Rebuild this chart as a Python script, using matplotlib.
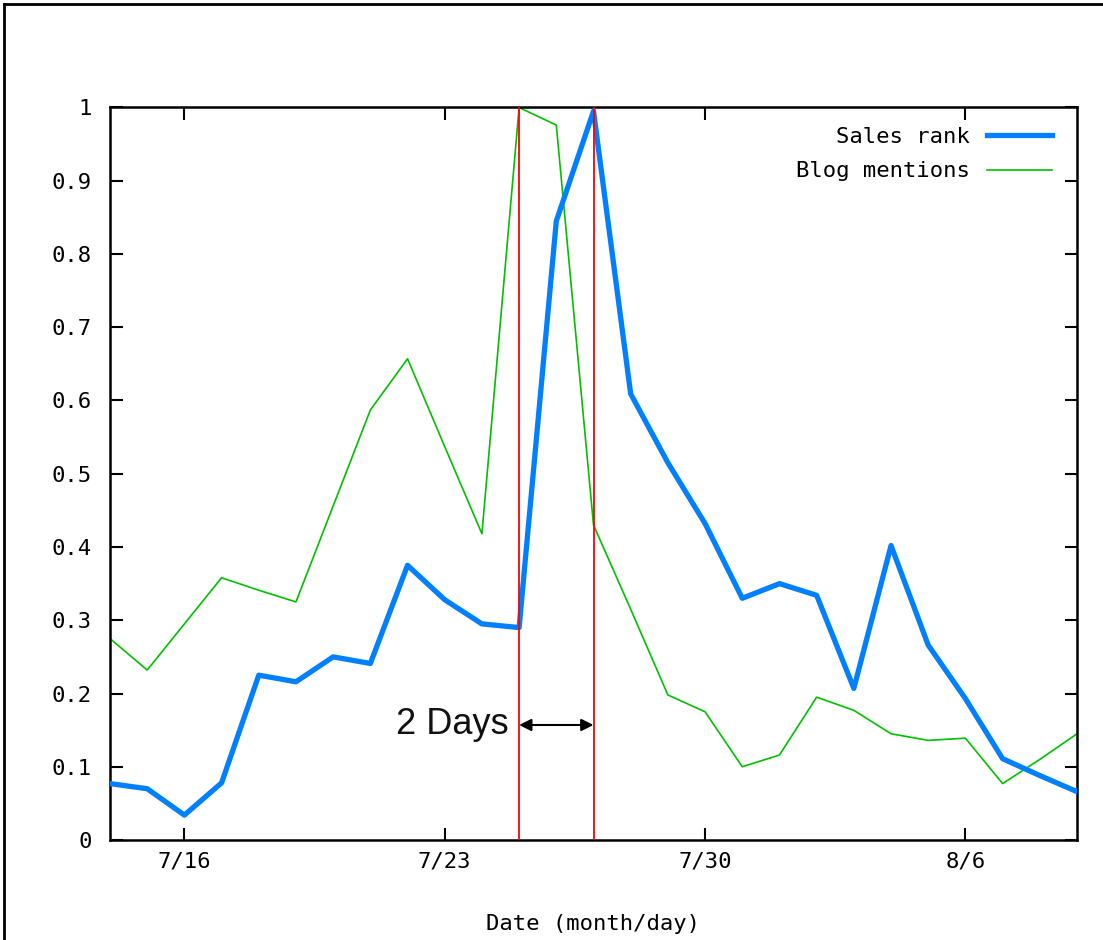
import matplotlib
matplotlib.use("Agg")
import matplotlib.pyplot as plt
from matplotlib.lines import Line2D
import pandas as pd

# ---- data ----
dates = pd.date_range("2005-07-14", "2005-08-09", freq="D")
sales_rank = [0.077, 0.070, 0.034, 0.078, 0.225, 0.216, 0.250, 0.241, 0.375,
              0.328, 0.295, 0.290, 0.845, 0.995, 0.609, 0.515, 0.432, 0.330,
              0.350, 0.334, 0.207, 0.402, 0.266, 0.193, 0.111, 0.088, 0.066]
blog_mentions = [0.275, 0.232, 0.295, 0.358, 0.341, 0.325, 0.456, 0.587, 0.657,
                 0.537, 0.418, 1.000, 0.976, 0.430, 0.315, 0.198, 0.175, 0.100,
                 0.116, 0.195, 0.177, 0.145, 0.136, 0.139, 0.077, 0.110, 0.145]
tick_dates = pd.to_datetime(["2005-07-16", "2005-07-23", "2005-07-30", "2005-08-06"])
tick_labels = ["7/16", "7/23", "7/30", "8/6"]
event_dates = pd.to_datetime(["2005-07-25", "2005-07-27"])
y_ticks = [0, 0.1, 0.2, 0.3, 0.4, 0.5, 0.6, 0.7, 0.8, 0.9, 1]
y_tick_labels = ["0", "0.1", "0.2", "0.3", "0.4", "0.5", "0.6", "0.7", "0.8", "0.9", "1"]

W, H = 1103, 940
fig = plt.figure(figsize=(W / 100, H / 100), dpi=100)
ax = fig.add_axes([110 / W, 1 - 840 / H, (1077 - 110) / W, (840 - 107.5) / H])

mono = "DejaVu Sans Mono"

ax.plot(dates, sales_rank, color="#0080ff", lw=3.8, label="Sales rank",
        solid_joinstyle="round", zorder=3)
ax.plot(dates, blog_mentions, color="#00c000", lw=1.2, label="Blog mentions", zorder=2)

for d in event_dates:
    ax.axvline(d, color="#ff0000", lw=1.3, zorder=4)

ax.annotate("", xy=(event_dates[0], 0.157), xytext=(event_dates[1], 0.157),
            arrowprops=dict(arrowstyle="<|-|>", color="black", lw=1.5,
                            mutation_scale=18, shrinkA=0, shrinkB=0), zorder=5)
ax.text(event_dates[0] - pd.Timedelta(hours=7), 0.157, "2 Days", ha="right", va="center",
        fontsize=26, family="Liberation Sans", color="#111111")

ax.set_xlim(dates[0], dates[-1])
ax.set_ylim(0, 1)
ax.set_xticks(tick_dates)
ax.set_xticklabels(tick_labels, family=mono, fontsize=16)
ax.set_yticks(y_ticks)
ax.set_yticklabels(y_tick_labels, family=mono, fontsize=16)
ax.tick_params(direction="in", length=9, width=1.5, top=True, right=True)
ax.tick_params(axis="x", pad=8)
ax.tick_params(axis="y", pad=13)
for s in ax.spines.values():
    s.set_linewidth(1.8)

ax.set_xlabel("Date (month/day)", family=mono, fontsize=16, labelpad=31)

leg = ax.legend(loc="upper right", frameon=False, markerfirst=False,
                prop={"family": mono, "size": 16}, handlelength=2.9,
                handletextpad=0.8, labelspacing=0.65, borderaxespad=1.0,
                bbox_to_anchor=(1.006, 1.016))
for t in leg.get_texts():
    t.set_ha("right")

# figure border (left and top)
fig.add_artist(Line2D([4 / W, 4 / W], [0, 1 - 4 / H], color="black", lw=2,
                      transform=fig.transFigure))
fig.add_artist(Line2D([4 / W, 1], [1 - 4 / H, 1 - 4 / H], color="black", lw=2,
                      transform=fig.transFigure))

fig.savefig("out.png", dpi=100)
